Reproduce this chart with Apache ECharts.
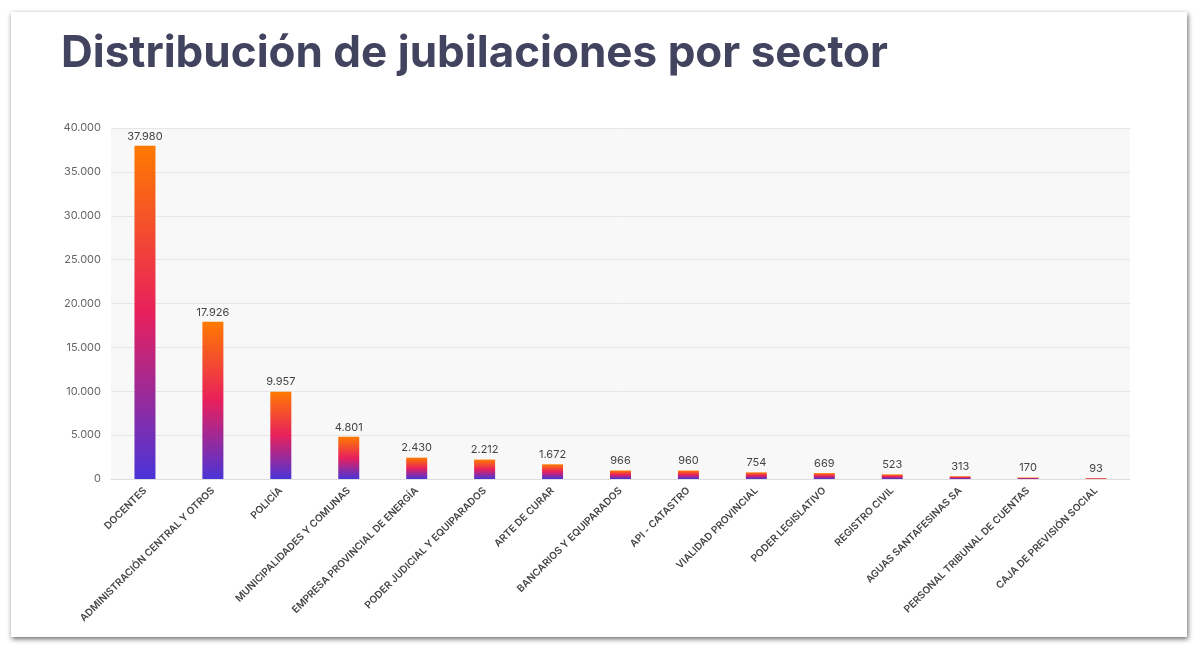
<!DOCTYPE html>
<html>
<head>
<meta charset="utf-8">
<script src="https://cdn.jsdelivr.net/npm/echarts@6/dist/echarts.min.js"></script>
<style>
  html, body { margin: 0; padding: 0; background: #fff; }
  #card {
    position: absolute; left: 11px; top: 12px; width: 1176px; height: 625px;
    background: #fff; box-shadow: 1px 2px 5px rgba(0,0,0,0.6);
  }
  #main { position: absolute; left: 0; top: 0; width: 1200px; height: 651px; }
</style>
</head>
<body>
<div id="card"></div>
<div id="main"></div>
<script>
  var sectores = ['DOCENTES', 'ADMINISTRACIÓN CENTRAL Y OTROS', 'POLICÍA', 'MUNICIPALIDADES Y COMUNAS',
    'EMPRESA PROVINCIAL DE ENERGÍA', 'PODER JUDICIAL Y EQUIPARADOS', 'ARTE DE CURAR', 'BANCARIOS Y EQUIPARADOS',
    'API - CATASTRO', 'VIALIDAD PROVINCIAL', 'PODER LEGISLATIVO', 'REGISTRO CIVIL', 'AGUAS SANTAFESINAS SA',
    'PERSONAL TRIBUNAL DE CUENTAS', 'CAJA DE PREVISIÓN SOCIAL'];
  var jubilaciones = [37980, 17926, 9957, 4801, 2430, 2212, 1672, 966, 960, 754, 669, 523, 313, 170, 93];

  function miles(v) {
    return String(v).replace(/\B(?=(\d{3})+(?!\d))/g, '.');
  }

  var chart = echarts.init(document.getElementById('main'));
  chart.setOption({
    backgroundColor: 'transparent',
    title: {
      text: 'Distribución de jubilaciones por sector',
      left: 56, top: 27,
      textStyle: { fontFamily: 'Inter', fontWeight: 'bold', fontSize: 44, color: '#41435f' }
    },
    grid: {
      left: 111, right: 70, top: 128, bottom: 172,
      show: true, backgroundColor: '#f8f8f8', borderWidth: 0
    },
    xAxis: {
      type: 'category',
      data: sectores,
      axisLine: { lineStyle: { color: '#dddddd' } },
      axisTick: { show: false },
      axisLabel: {
        rotate: 45, interval: 0, margin: 10,
        fontFamily: 'Inter', fontSize: 10, fontWeight: 600, color: '#444'
      }
    },
    yAxis: {
      type: 'value',
      min: 0, max: 40000, interval: 5000,
      axisLine: { show: false },
      axisTick: { show: false },
      splitLine: { lineStyle: { color: '#e6e6e6' } },
      axisLabel: {
        margin: 10, fontFamily: 'Inter', fontSize: 11, color: '#666',
        formatter: miles
      }
    },
    series: [{
      type: 'bar',
      data: jubilaciones,
      barWidth: 21,
      itemStyle: {
        color: new echarts.graphic.LinearGradient(0, 0, 0, 1, [
          { offset: 0, color: '#ff7a00' },
          { offset: 0.5, color: '#e8205c' },
          { offset: 1, color: '#4a34d8' }
        ])
      },
      label: {
        show: true, position: 'top', distance: 4,
        fontFamily: 'Inter', fontSize: 11, color: '#444',
        formatter: function (p) { return miles(p.value); }
      }
    }]
  });
</script>
</body>
</html>
